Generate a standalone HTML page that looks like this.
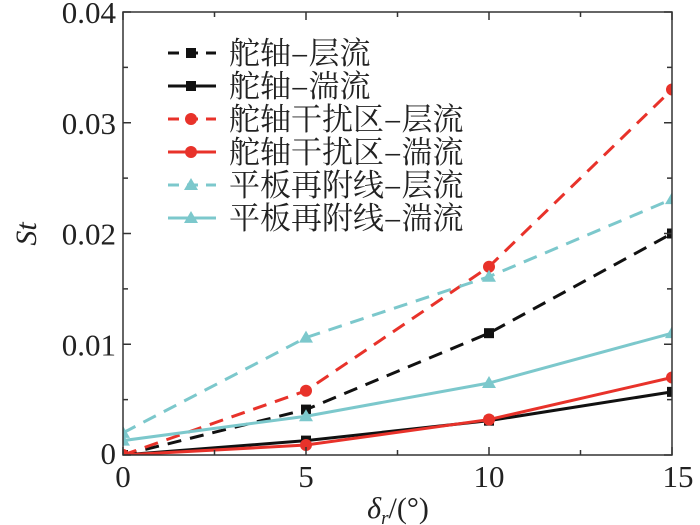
<!DOCTYPE html>
<html><head><meta charset="utf-8"><style>body{margin:0;background:#fff}svg{display:block}</style></head>
<body>
<svg width="700" height="525" viewBox="0 0 700 525" font-family="'Liberation Serif','Noto Serif CJK SC',serif">
<defs><clipPath id="pc"><rect x="123" y="12" width="549" height="443"/></clipPath></defs>
<g id="plot" clip-path="url(#pc)"></g>
<g id="axes"></g>
<g id="legend"></g>
</svg>
<script>
const xCats=[0,5,10,15];
const rudLam=[0,0.0041,0.011,0.020];
const rudTur=[0,0.0013,0.0031,0.0057];
const intLam=[0,0.0058,0.017,0.033];
const intTur=[0,0.0009,0.0032,0.0070];
const plaLam=[0.0020,0.0106,0.0161,0.0231];
const plaTur=[0.0013,0.0035,0.0065,0.0110];
const yTicks=[0,0.01,0.02,0.03,0.04];
const yTickLabels=["0","0.01","0.02","0.03","0.04"];
const xTicks=[0,5,10,15];
const xTickLabels=["0","5","10","15"];
const legendLabels=["舵轴–层流","舵轴–湍流","舵轴干扰区–层流","舵轴干扰区–湍流","平板再附线–层流","平板再附线–湍流"];
const X0=123,X1=672,Y0=455,Y1=12;
const sx=v=>X0+(v-0)/15*(X1-X0);
const sy=v=>Y0-(v/0.04)*(Y0-Y1);
const NS="http://www.w3.org/2000/svg";
function mk(t,a,p){const e=document.createElementNS(NS,t);for(const k in a)e.setAttribute(k,a[k]);p.appendChild(e);return e;}
const plot=document.getElementById('plot'),axes=document.getElementById('axes'),leg=document.getElementById('legend');
const series=[
 {v:rudLam,c:"#111",d:true,m:"sq",n:"rudder-laminar"},
 {v:rudTur,c:"#111",d:false,m:"sq",n:"rudder-turbulent"},
 {v:intLam,c:"#e8322a",d:true,m:"ci",n:"interference-laminar"},
 {v:intTur,c:"#e8322a",d:false,m:"ci",n:"interference-turbulent"},
 {v:plaLam,c:"#7cc8cc",d:true,m:"tr",n:"plate-laminar"},
 {v:plaTur,c:"#7cc8cc",d:false,m:"tr",n:"plate-turbulent"}];
function marker(m,x,y,c,p,name){let e;
 if(m=="sq")e=mk('rect',{x:x-5,y:y-5,width:10,height:10,fill:c},p);
 else if(m=="ci")e=mk('circle',{cx:x,cy:y,r:6,fill:c},p);
 else e=mk('polygon',{points:`${x},${y-7} ${x-7},${y+5} ${x+7},${y+5}`,fill:c},p);
 
 }
series.forEach(s=>{
 const pl=mk('polyline',{points:s.v.map((v,i)=>sx(xCats[i])+','+sy(v)).join(' '),fill:'none',stroke:s.c,'stroke-width':3,'stroke-dasharray':s.d?'14,9':'none'},plot);
 
 
 s.v.forEach((v,i)=>marker(s.m,sx(xCats[i]),sy(v),s.c,plot,s.n+'-point'));
});
const fr=mk('rect',{x:X0,y:Y1,width:X1-X0,height:Y0-Y1,fill:'none',stroke:'#333','stroke-width':1.5},axes);


for(let v=0;v<=0.04001;v+=0.005){const y=sy(v),L=(Math.round(v*1000)%10==0)?8:5;
 mk('line',{x1:X0,y1:y,x2:X0+L,y2:y,stroke:'#333','stroke-width':1.5},axes);
 mk('line',{x1:X1,y1:y,x2:X1-L,y2:y,stroke:'#333','stroke-width':1.5},axes);}
for(let v=0;v<=15;v+=2.5){const x=sx(v),L=(v%5==0)?8:5;
 mk('line',{x1:x,y1:Y0,x2:x,y2:Y0-L,stroke:'#333','stroke-width':1.5},axes);
 mk('line',{x1:x,y1:Y1,x2:x,y2:Y1+L,stroke:'#333','stroke-width':1.5},axes);}
yTicks.forEach((v,i)=>{const t=mk('text',{x:116,y:sy(v)+(i==0?9:11),'text-anchor':'end','font-size':31,fill:'#222'},axes);t.textContent=yTickLabels[i];
 
 });
xTicks.forEach((v,i)=>{const t=mk('text',{x:sx(v)+(i==3?6:0),y:487,'text-anchor':'middle','font-size':31,fill:'#222'},axes);t.textContent=xTickLabels[i];
 
 });
const yt=mk('text',{x:36,y:234,'text-anchor':'middle','font-size':30,'font-style':'italic',fill:'#222',transform:'rotate(-90 36 234)'},axes);yt.textContent='St';


const xt=mk('text',{x:398,y:518,'text-anchor':'middle','font-size':30,fill:'#222'},axes);
xt.innerHTML='<tspan font-style="italic">δ</tspan><tspan font-style="italic" font-size="19" dy="6">r</tspan><tspan dy="-6">/(°)</tspan>';


series.forEach((s,i)=>{const y=53+i*33;
 const g=mk('g',{},leg);
 
 
 mk('line',{x1:168,y1:y,x2:216,y2:y,stroke:s.c,'stroke-width':3,'stroke-dasharray':s.d?'11,8':'none'},g);
 marker(s.m,191,y,s.c,g,'legend-marker');
 const t=mk('text',{x:229,y:y+11,'font-size':31,fill:'#222','font-family':"'Noto Serif CJK SC','Noto Sans CJK SC',serif"},g);t.textContent=legendLabels[i];});
</script>
</body></html>
